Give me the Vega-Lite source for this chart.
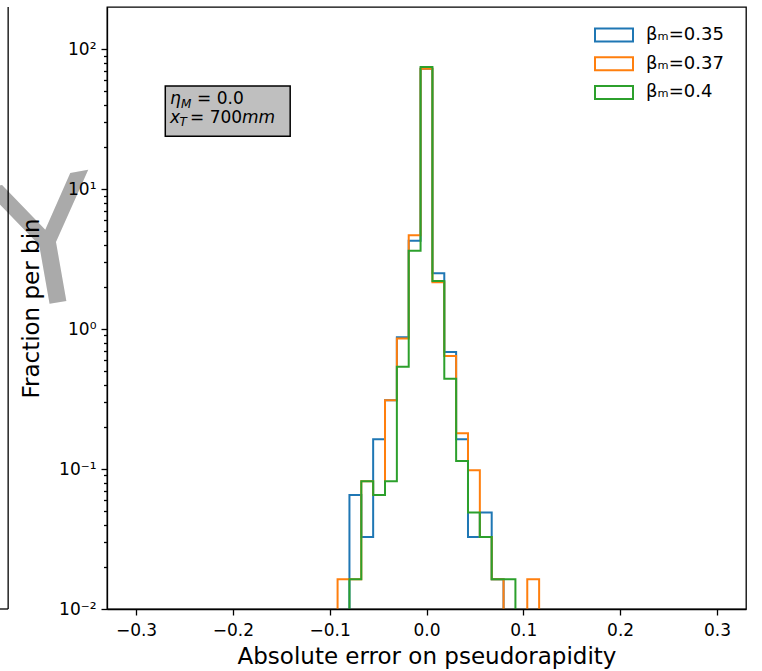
{
  "$schema": "https://vega.github.io/schema/vega-lite/v6.json",
  "width": 639,
  "height": 602,
  "autosize": {"type": "none"},
  "padding": {"left": 107, "top": 7, "right": 16, "bottom": 62},
  "background": "white",
  "config": {
    "font": "DejaVu Sans",
    "view": {"stroke": "black", "strokeWidth": 1.3},
    "axis": {"grid": false, "domainColor": "black", "domainWidth": 1.3, "tickColor": "black", "tickWidth": 1.3, "labelColor": "black", "titleColor": "black", "labelFont": "DejaVu Sans", "titleFont": "DejaVu Sans", "titleFontWeight": "normal", "labelFontSize": 17, "titleFontSize": 23}
  },
  "layer": [
    {
      "data": {"values": [
        {"beta": "βₘ=0.35", "i": 0, "edge": -0.09184, "fraction": 0.0001},
        {"beta": "βₘ=0.35", "i": 1, "edge": -0.07959, "fraction": 0.0653},
        {"beta": "βₘ=0.35", "i": 2, "edge": -0.06735, "fraction": 0.0327},
        {"beta": "βₘ=0.35", "i": 3, "edge": -0.0551, "fraction": 0.1633},
        {"beta": "βₘ=0.35", "i": 4, "edge": -0.04286, "fraction": 0.3103},
        {"beta": "βₘ=0.35", "i": 5, "edge": -0.03061, "fraction": 0.874},
        {"beta": "βₘ=0.35", "i": 6, "edge": -0.01837, "fraction": 4.27},
        {"beta": "βₘ=0.35", "i": 7, "edge": -0.00612, "fraction": 72.5},
        {"beta": "βₘ=0.35", "i": 8, "edge": 0.00612, "fraction": 2.5},
        {"beta": "βₘ=0.35", "i": 9, "edge": 0.01837, "fraction": 0.686},
        {"beta": "βₘ=0.35", "i": 10, "edge": 0.03061, "fraction": 0.1633},
        {"beta": "βₘ=0.35", "i": 11, "edge": 0.04286, "fraction": 0.0327},
        {"beta": "βₘ=0.35", "i": 12, "edge": 0.0551, "fraction": 0.049},
        {"beta": "βₘ=0.35", "i": 13, "edge": 0.06735, "fraction": 0.0163},
        {"beta": "βₘ=0.35", "i": 14, "edge": 0.07959, "fraction": 0.0001},
        {"beta": "βₘ=0.37", "i": 0, "edge": -0.10408, "fraction": 0.0001},
        {"beta": "βₘ=0.37", "i": 1, "edge": -0.09184, "fraction": 0.0163},
        {"beta": "βₘ=0.37", "i": 2, "edge": -0.07959, "fraction": 0.0163},
        {"beta": "βₘ=0.37", "i": 3, "edge": -0.06735, "fraction": 0.0817},
        {"beta": "βₘ=0.37", "i": 4, "edge": -0.0551, "fraction": 0.0653},
        {"beta": "βₘ=0.37", "i": 5, "edge": -0.04286, "fraction": 0.3103},
        {"beta": "βₘ=0.37", "i": 6, "edge": -0.03061, "fraction": 0.858},
        {"beta": "βₘ=0.37", "i": 7, "edge": -0.01837, "fraction": 4.69},
        {"beta": "βₘ=0.37", "i": 8, "edge": -0.00612, "fraction": 72.5},
        {"beta": "βₘ=0.37", "i": 9, "edge": 0.00612, "fraction": 2.156},
        {"beta": "βₘ=0.37", "i": 10, "edge": 0.01837, "fraction": 0.641},
        {"beta": "βₘ=0.37", "i": 11, "edge": 0.03061, "fraction": 0.18},
        {"beta": "βₘ=0.37", "i": 12, "edge": 0.04286, "fraction": 0.098},
        {"beta": "βₘ=0.37", "i": 13, "edge": 0.0551, "fraction": 0.0327},
        {"beta": "βₘ=0.37", "i": 14, "edge": 0.06735, "fraction": 0.0163},
        {"beta": "βₘ=0.37", "i": 15, "edge": 0.07959, "fraction": 0.0001},
        {"beta": "βₘ=0.37", "i": 16, "edge": 0.09184, "fraction": 0.0001},
        {"beta": "βₘ=0.37", "i": 17, "edge": 0.10408, "fraction": 0.0163},
        {"beta": "βₘ=0.37", "i": 18, "edge": 0.11633, "fraction": 0.0001},
        {"beta": "βₘ=0.4", "i": 0, "edge": -0.09184, "fraction": 0.0001},
        {"beta": "βₘ=0.4", "i": 1, "edge": -0.07959, "fraction": 0.0163},
        {"beta": "βₘ=0.4", "i": 2, "edge": -0.06735, "fraction": 0.0817},
        {"beta": "βₘ=0.4", "i": 3, "edge": -0.0551, "fraction": 0.0653},
        {"beta": "βₘ=0.4", "i": 4, "edge": -0.04286, "fraction": 0.0817},
        {"beta": "βₘ=0.4", "i": 5, "edge": -0.03061, "fraction": 0.539},
        {"beta": "βₘ=0.4", "i": 6, "edge": -0.01837, "fraction": 3.626},
        {"beta": "βₘ=0.4", "i": 7, "edge": -0.00612, "fraction": 74.4},
        {"beta": "βₘ=0.4", "i": 8, "edge": 0.00612, "fraction": 2.205},
        {"beta": "βₘ=0.4", "i": 9, "edge": 0.01837, "fraction": 0.441},
        {"beta": "βₘ=0.4", "i": 10, "edge": 0.03061, "fraction": 0.1143},
        {"beta": "βₘ=0.4", "i": 11, "edge": 0.04286, "fraction": 0.049},
        {"beta": "βₘ=0.4", "i": 12, "edge": 0.0551, "fraction": 0.0327},
        {"beta": "βₘ=0.4", "i": 13, "edge": 0.06735, "fraction": 0.0163},
        {"beta": "βₘ=0.4", "i": 14, "edge": 0.07959, "fraction": 0.0163},
        {"beta": "βₘ=0.4", "i": 15, "edge": 0.09184, "fraction": 0.0001}
      ]},
      "mark": {"type": "line", "interpolate": "step-after", "clip": true, "strokeWidth": 2},
      "encoding": {
        "x": {
          "field": "edge", "type": "quantitative",
          "scale": {"domain": [-0.33, 0.33], "nice": false, "zero": false},
          "axis": {"title": "Absolute error on pseudorapidity", "values": [-0.3, -0.2, -0.1, 0, 0.1, 0.2, 0.3], "format": ".1f", "tickSize": 6, "labelPadding": 7, "titlePadding": 7, "zindex": 1, "labelFlush": false}
        },
        "y": {
          "field": "fraction", "type": "quantitative",
          "scale": {"type": "log", "domain": [0.01, 200], "nice": false},
          "axis": {
            "title": "Fraction per bin",
            "values": [0.01, 0.02, 0.03, 0.04, 0.05, 0.06, 0.07, 0.08, 0.09, 0.1, 0.2, 0.3, 0.4, 0.5, 0.6, 0.7, 0.8, 0.9, 1, 2, 3, 4, 5, 6, 7, 8, 9, 10, 20, 30, 40, 50, 60, 70, 80, 90, 100],
            "labelExpr": "datum.value == 100 ? '10²' : datum.value == 10 ? '10¹' : datum.value == 1 ? '10⁰' : datum.value == 0.1 ? '10⁻¹' : datum.value == 0.01 ? '10⁻²' : ''",
            "tickSize": {"condition": {"test": "indexof([0.01, 0.1, 1, 10, 100], datum.value) >= 0", "value": 6}, "value": 3.5},
            "labelPadding": 5, "titlePadding": 15, "zindex": 1, "labelOverlap": false, "labelBound": false, "labelFlush": false
          }
        },
        "color": {
          "field": "beta", "type": "nominal",
          "scale": {"domain": ["βₘ=0.35", "βₘ=0.37", "βₘ=0.4"], "range": ["#1f77b4", "#ff7f0e", "#2ca02c"]},
          "legend": {"orient": "none", "legendX": 487, "legendY": 18, "title": null, "symbolType": "M-1,-0.342H1V0.342H-1Z", "symbolSize": 1444, "symbolStrokeWidth": 2, "symbolFillColor": "transparent", "labelFontSize": 18, "labelColor": "black", "labelOffset": 12, "clipHeight": 20, "rowPadding": 8.7, "padding": 0}
        },
        "order": {"field": "i", "type": "quantitative"}
      }
    },
    {
      "data": {"values": [{}]},
      "mark": {"type": "rect", "fill": "#bfbfbf", "stroke": "black", "strokeWidth": 1.5},
      "encoding": {"x": {"datum": -0.2698}, "x2": {"datum": -0.1408}, "y": {"datum": 54.5}, "y2": {"datum": 23.9}}
    },
    {
      "data": {"values": [{}]},
      "mark": {"type": "text", "text": "η", "fontStyle": "italic", "fontSize": 17, "align": "left", "baseline": "alphabetic"},
      "encoding": {"x": {"datum": -0.2649}, "y": {"datum": 40.5}}
    },
    {
      "data": {"values": [{}]},
      "mark": {"type": "text", "text": "M", "fontStyle": "italic", "fontSize": 12, "align": "left", "baseline": "alphabetic", "dx": 11, "dy": 3.5},
      "encoding": {"x": {"datum": -0.2649}, "y": {"datum": 40.5}}
    },
    {
      "data": {"values": [{}]},
      "mark": {"type": "text", "text": "= 0.0", "fontSize": 17, "align": "left", "baseline": "alphabetic", "dx": 27},
      "encoding": {"x": {"datum": -0.2649}, "y": {"datum": 40.5}}
    },
    {
      "data": {"values": [{}]},
      "mark": {"type": "text", "text": "x", "fontStyle": "italic", "fontSize": 17, "align": "left", "baseline": "alphabetic"},
      "encoding": {"x": {"datum": -0.2649}, "y": {"datum": 29.9}}
    },
    {
      "data": {"values": [{}]},
      "mark": {"type": "text", "text": "T", "fontStyle": "italic", "fontSize": 12, "align": "left", "baseline": "alphabetic", "dx": 9.5, "dy": 3.5},
      "encoding": {"x": {"datum": -0.2649}, "y": {"datum": 29.9}}
    },
    {
      "data": {"values": [{}]},
      "mark": {"type": "text", "text": "= 700", "fontSize": 17, "align": "left", "baseline": "alphabetic", "dx": 20},
      "encoding": {"x": {"datum": -0.2649}, "y": {"datum": 29.9}}
    },
    {
      "data": {"values": [{}]},
      "mark": {"type": "text", "text": "mm", "fontStyle": "italic", "fontSize": 17, "align": "left", "baseline": "alphabetic", "dx": 72},
      "encoding": {"x": {"datum": -0.2649}, "y": {"datum": 29.9}}
    },
    {
      "data": {"values": [{}]},
      "mark": {"type": "text", "text": "Y", "fontSize": 172, "color": "#aaaaaa", "angle": -10, "align": "center", "baseline": "middle", "clip": false},
      "encoding": {"x": {"datum": -0.39}, "y": {"datum": 3.6}}
    },
    {
      "data": {"values": [{}]},
      "mark": {"type": "rule", "color": "black", "strokeWidth": 1.3, "clip": false},
      "encoding": {"x": {"datum": -0.4321}, "y": {"datum": 0.01}, "y2": {"datum": 200}}
    },
    {
      "data": {"values": [{}]},
      "mark": {"type": "rule", "color": "black", "strokeWidth": 1.3, "clip": false},
      "encoding": {"x": {"datum": -0.445}, "x2": {"datum": -0.4321}, "y": {"datum": 0.01}}
    }
  ]
}
